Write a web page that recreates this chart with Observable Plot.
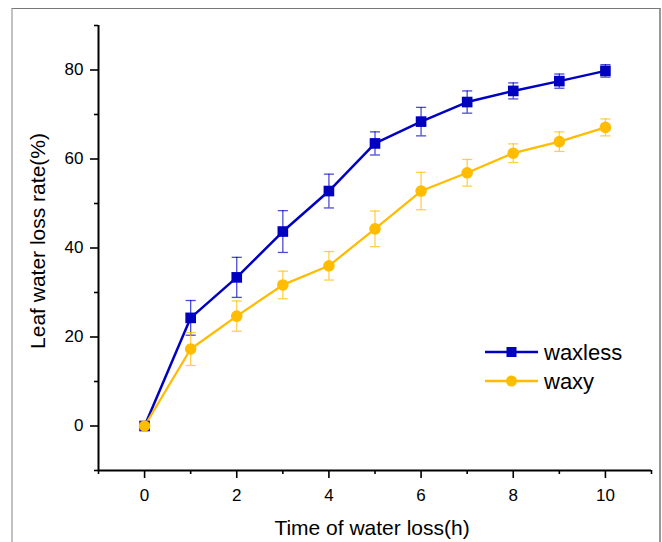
<!DOCTYPE html>
<html>
<head>
<meta charset="utf-8">
<script src="https://cdn.jsdelivr.net/npm/d3@7"></script>
<script src="https://cdn.jsdelivr.net/npm/@observablehq/plot@0.6"></script>
<style>
  html, body { margin: 0; padding: 0; background: #fff; }
  #wrap { position: relative; width: 662px; height: 542px; overflow: hidden; font-family: "Liberation Sans", Arial, sans-serif; }
  #frame { position: absolute; left: 11px; top: 8px; width: 646px; height: 560px;
           border-top: 1.5px solid #777; border-left: 2px solid #c2c2c2; border-right: 2px solid #999; }
  #legend { position: absolute; left: 480px; top: 336px; }
</style>
</head>
<body>
<div id="wrap"><div id="frame"></div></div>
<script>
const times = [0, 1, 2, 3, 4, 5, 6, 7, 8, 9, 10];
const waxless = [0, 24.3, 33.4, 43.7, 52.8, 63.5, 68.4, 72.8, 75.3, 77.5, 79.8];
const waxlessErr = [0, 3.9, 4.5, 4.7, 3.8, 2.6, 3.2, 2.5, 1.8, 1.6, 1.4];
const waxy = [0, 17.3, 24.7, 31.7, 36.0, 44.3, 52.8, 56.9, 61.3, 63.9, 67.1];
const waxyErr = [0, 3.7, 3.4, 3.1, 3.2, 4.0, 4.2, 3.0, 2.1, 2.2, 1.9];
const seriesNames = ["waxless", "waxy"];
const seriesColors = ["#0000c0", "#ffbc00"];
const xMajor = [0, 2, 4, 6, 8, 10];
const xMinor = [-1, 1, 3, 5, 7, 9, 11];
const yMajor = [0, 20, 40, 60, 80];
const yMinor = [-10, 10, 30, 50, 70, 90];
const xLabel = "Time of water loss(h)";
const yLabel = "Leaf water loss rate(%)";

const build = (vals, errs, name) => times.map((t, i) => ({x: t, y: vals[i], e: errs[i], s: name}));
const dLess = build(waxless, waxlessErr, seriesNames[0]);
const dWaxy = build(waxy, waxyErr, seriesNames[1]);
const cap = 0.11;

function errMarks(data, color) {
  const ed = data.filter(d => d.e > 0);
  return [
    Plot.ruleX(ed, {x: "x", y1: d => d.y - d.e, y2: d => d.y + d.e, stroke: color, strokeWidth: 1.3, strokeOpacity: 0.7}),
    Plot.link(ed, {x1: d => d.x - cap, x2: d => d.x + cap, y1: d => d.y + d.e, y2: d => d.y + d.e, stroke: color, strokeWidth: 1.3, strokeOpacity: 0.7}),
    Plot.link(ed, {x1: d => d.x - cap, x2: d => d.x + cap, y1: d => d.y - d.e, y2: d => d.y - d.e, stroke: color, strokeWidth: 1.3, strokeOpacity: 0.7})
  ];
}

const chart = Plot.plot({
  width: 662,
  height: 542,
  marginLeft: 98,
  marginRight: 11,
  marginTop: 25,
  marginBottom: 72,
  style: {fontFamily: "'Liberation Sans', Arial, sans-serif", fontSize: "17px", background: "transparent", color: "#000"},
  x: {domain: [-1, 11]},
  y: {domain: [-10, 90]},
  marks: [
    Plot.axisX({ticks: xMajor, tickSize: 8, tickPadding: 10, strokeWidth: 1.6, label: null, fontSize: 17}),
    Plot.axisX({ticks: xMinor, tickSize: 4, text: null, strokeWidth: 1.6, label: null}),
    Plot.axisY({ticks: yMajor, tickSize: 8, tickPadding: 7, strokeWidth: 1.6, label: null, fontSize: 17}),
    Plot.axisY({ticks: yMinor, tickSize: 4, text: null, strokeWidth: 1.6, label: null}),
    Plot.ruleX([-1], {stroke: "#000", strokeWidth: 2}),
    Plot.ruleY([-10], {stroke: "#000", strokeWidth: 2}),
    Plot.line(dLess, {x: "x", y: "y", stroke: seriesColors[0], strokeWidth: 2.5}),
    Plot.line(dWaxy, {x: "x", y: "y", stroke: seriesColors[1], strokeWidth: 2.3}),
    ...errMarks(dLess, seriesColors[0]),
    ...errMarks(dWaxy, seriesColors[1]),
    Plot.dot(dLess, {x: "x", y: "y", symbol: "square", r: 6, fill: seriesColors[0], stroke: null}),
    Plot.dot(dWaxy, {x: "x", y: "y", symbol: "circle", r: 5.8, fill: seriesColors[1], stroke: null}),
    Plot.text([yLabel], {frameAnchor: "left", text: d => d, rotate: -90, dx: -60, dy: -7, fontSize: 21, textAnchor: "middle", lineAnchor: "middle", fill: "#000"}),
    Plot.text([xLabel], {frameAnchor: "bottom", text: d => d, dx: -3, dy: 58, fontSize: 21, textAnchor: "middle", lineAnchor: "middle", fill: "#000"})
  ]
});
const wrap = document.getElementById("wrap");
chart.style.position = "absolute";
chart.style.left = "0px";
chart.style.top = "0px";
wrap.appendChild(chart);

// legend
const leg = d3.create("svg").attr("id", "legend").attr("width", 170).attr("height", 70)
  .style("font-family", "'Liberation Sans', Arial, sans-serif");
seriesNames.forEach((name, i) => {
  const g = leg.append("g").attr("transform", `translate(0, ${16 + i * 29})`);
  g.append("line").attr("x1", 5).attr("x2", 58).attr("y1", 0).attr("y2", 0)
    .attr("stroke", seriesColors[i]).attr("stroke-width", 2.3);
  if (i === 0) g.append("rect").attr("x", 26.5).attr("y", -5).attr("width", 10).attr("height", 10).attr("fill", seriesColors[i]);
  else g.append("circle").attr("cx", 31.5).attr("cy", 0).attr("r", 5.5).attr("fill", seriesColors[i]);
  g.append("text").attr("x", 64).attr("y", 0).attr("dy", "0.35em").attr("font-size", 22).attr("fill", "#000").text(name);
});
wrap.appendChild(leg.node());
</script>
</body>
</html>
